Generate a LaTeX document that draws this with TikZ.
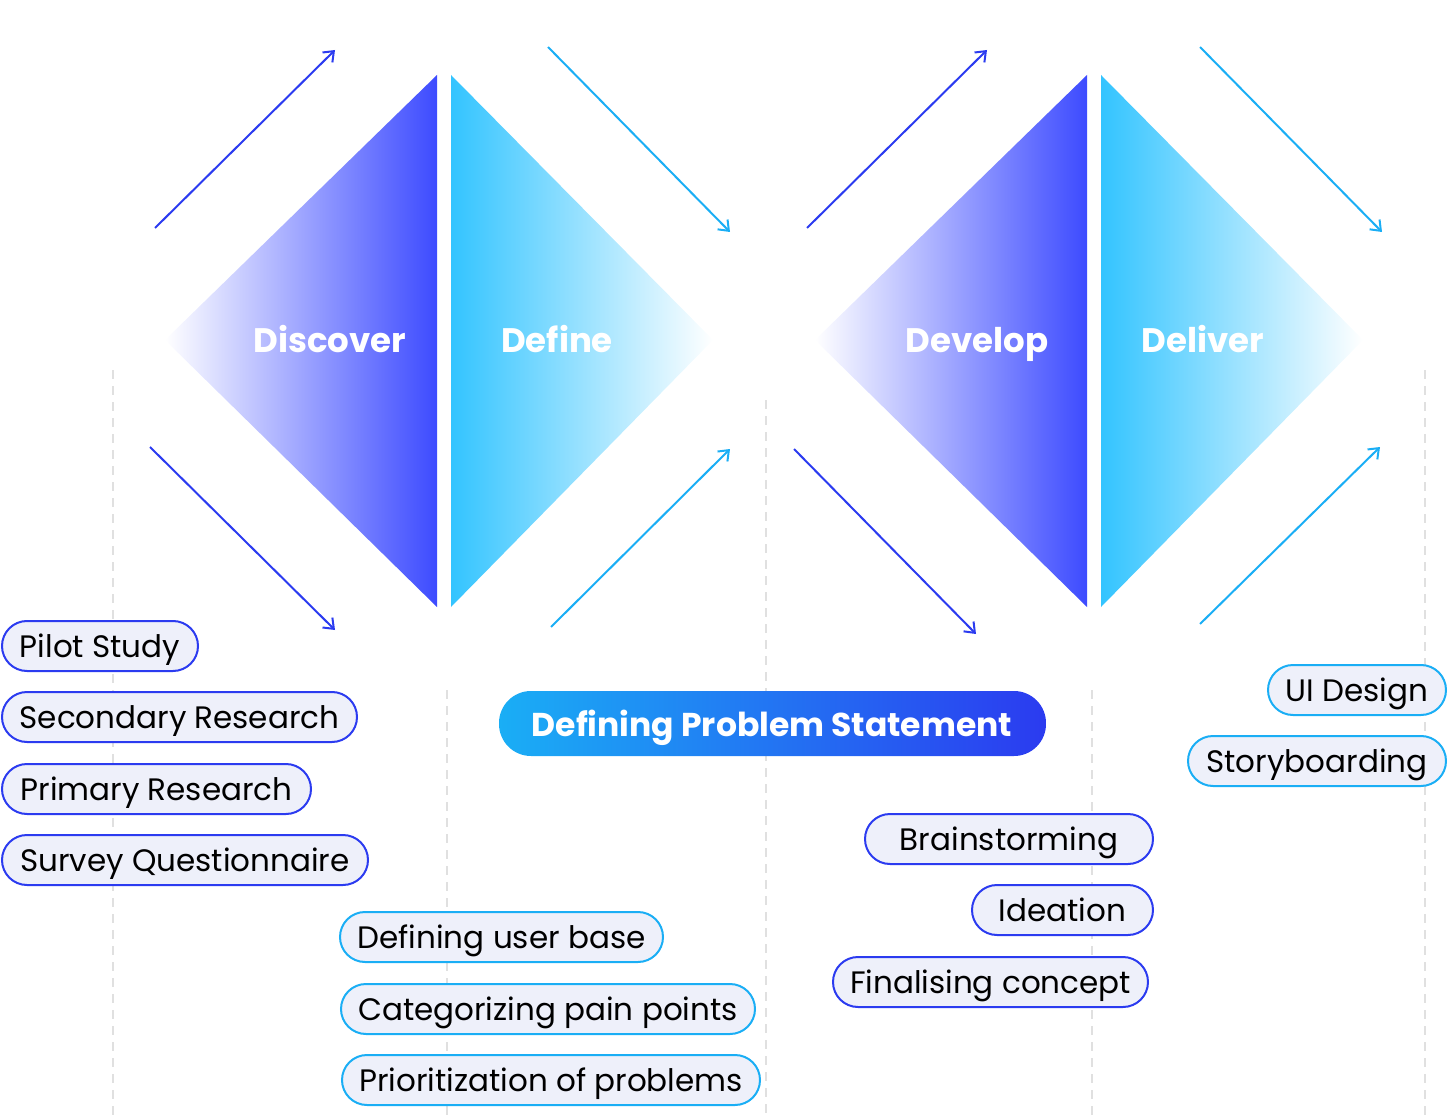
\documentclass[tikz,border=0pt]{standalone}
\usepackage{fontspec}
\setmainfont{Poppins}
\usetikzlibrary{arrows.meta}
\definecolor{dblue}{HTML}{2B3BF0}
\definecolor{cyanb}{HTML}{1AAEF5}
\definecolor{pillbg}{HTML}{EEF0FA}
\definecolor{sblue}{HTML}{3D4BFF}
\definecolor{scyan}{HTML}{33C4FF}
\begin{document}
\begin{tikzpicture}[x=1pt,y=-1pt,
  arr/.style={line width=2pt,-{Straight Barb[length=9pt,width=14pt]}},
  grid/.style={draw=black!12,line width=1.4pt,dash pattern=on 9pt off 7pt},
  pill/.style={draw,line width=2pt,fill=pillbg,rounded corners=25pt,minimum height=50pt,inner xsep=0pt,text height=24pt,text depth=2pt,font=\fontsize{31}{32}\selectfont,text=black},
  pb/.style={pill,draw=dblue},
  pc/.style={pill,draw=cyanb},
  big/.style={font=\fontsize{34}{36}\selectfont\bfseries,text=white,anchor=base}]
\useasboundingbox (0,0) rectangle (1449,1115);
% grid lines
\draw[grid] (113,370) -- (113,1115);
\draw[grid] (447,690) -- (447,1115);
\draw[grid] (766,400) -- (766,1115);
\draw[grid] (1092,690) -- (1092,1115);
\draw[grid] (1425,370) -- (1425,1115);
% diamonds
\foreach \o in {0,650}{
 \begin{scope}[xshift=\o]
  \shade[left color=white,right color=sblue] (165,340) -- (437,75) -- (437,607) -- cycle;
  \shade[left color=scyan,right color=white] (451,75) -- (713,340) -- (451,607) -- cycle;
 \end{scope}}
\node[big] (t1) at (330,353) {Discover};
\node[big] (t2) at (557,353) {Define};
\node[big] (t3) at (977,353) {Develop};
\node[big] (t4) at (1203,353) {Deliver};
% arrows
\coordinate (a1) at (155,228); \coordinate (a2) at (335,50);
\coordinate (b1) at (150,447); \coordinate (b2) at (335,630);
\coordinate (c1) at (548,47); \coordinate (c2) at (730,232);
\coordinate (d1) at (551,627); \coordinate (d2) at (730,449);
\coordinate (e1) at (807,228); \coordinate (e2) at (987,50);
\coordinate (f1) at (794,449); \coordinate (f2) at (976,634);
\coordinate (g1) at (1200,47); \coordinate (g2) at (1382,232);
\coordinate (h1) at (1200,624); \coordinate (h2) at (1380,447);
\draw[arr,dblue] (a1) -- (a2);
\draw[arr,dblue] (b1) -- (b2);
\draw[arr,cyanb] (c1) -- (c2);
\draw[arr,cyanb] (d1) -- (d2);
\draw[arr,dblue] (e1) -- (e2);
\draw[arr,dblue] (f1) -- (f2);
\draw[arr,cyanb] (g1) -- (g2);
\draw[arr,cyanb] (h1) -- (h2);
% central pill
\shade[left color=cyanb,right color=dblue,rounded corners=32pt] (499,691) rectangle (1046,756);
\node[font=\fontsize{33}{36}\selectfont\bfseries,text=white,anchor=base] (dps) at (772,736) {Defining Problem Statement};
% pills
\node[pb,minimum width=196pt] (p1) at (100,646) {Pilot Study};
\node[pb,minimum width=355pt] (p2) at (179.5,717) {Secondary Research};
\node[pb,minimum width=309pt] (p3) at (156.5,789) {Primary Research};
\node[pb,minimum width=366pt] (p4) at (185,860) {Survey Questionnaire};
\node[pc,minimum width=323pt] (q1) at (501.5,937) {Defining user base};
\node[pc,minimum width=414pt] (q2) at (548,1009) {Categorizing pain points};
\node[pc,minimum width=418pt] (q3) at (551,1080) {Prioritization of problems};
\node[pb,minimum width=288pt] (r1) at (1009,839) {Brainstorming};
\node[pb,minimum width=181pt] (r2) at (1062.5,910) {Ideation};
\node[pb,minimum width=315pt] (r3) at (990.5,982) {Finalising concept};
\node[pc,minimum width=178pt] (s1) at (1357,690) {UI Design};
\node[pc,minimum width=258pt] (s2) at (1317,761) {Storyboarding};
\end{tikzpicture}
\end{document}
